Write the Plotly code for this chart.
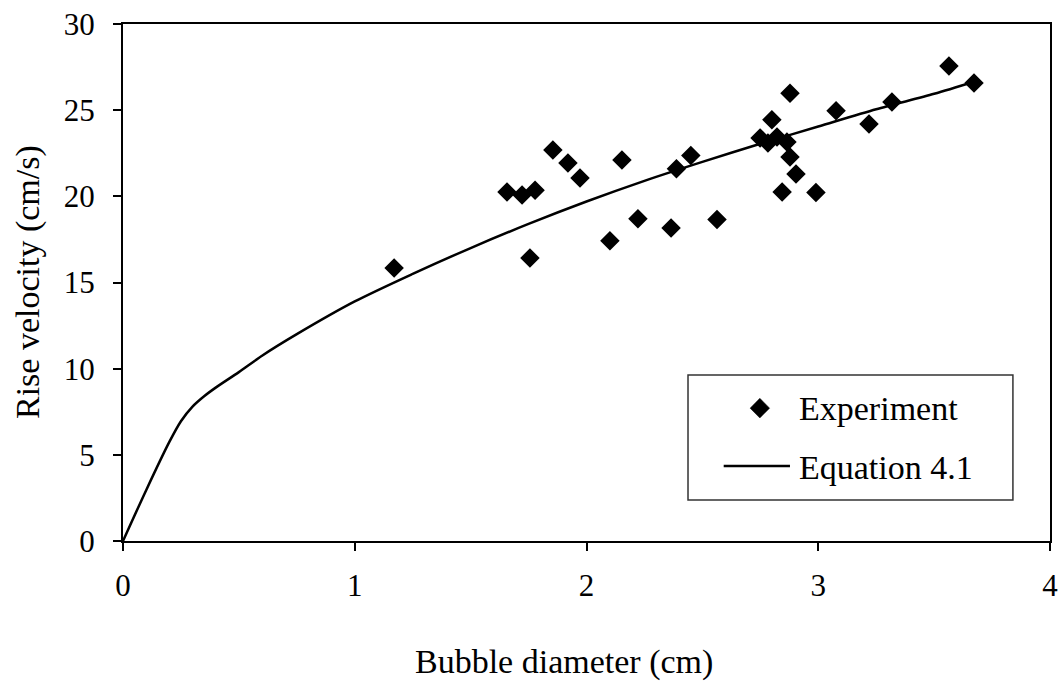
import plotly.graph_objects as go

# Measured bubble rise velocities
exp_diameter = [1.17, 1.657, 1.722, 1.778, 1.756, 1.855, 1.92, 1.972, 2.101, 2.153,
                2.222, 2.365, 2.388, 2.45, 2.563, 2.749, 2.783, 2.80, 2.822, 2.865,
                2.878, 2.878, 2.904, 2.844, 2.99, 3.077, 3.219, 3.318, 3.564, 3.672]
exp_velocity = [15.84, 20.25, 20.08, 20.35, 16.42, 22.69, 21.93, 21.06, 17.42, 22.11,
                18.70, 18.16, 21.60, 22.37, 18.66, 23.39, 23.10, 24.45, 23.44, 23.15,
                25.98, 22.28, 21.30, 20.25, 20.22, 24.97, 24.20, 25.47, 27.56, 26.58]

# Equation 4.1 curve
eq_diameter = [0.0, 0.1, 0.2, 0.25, 0.3, 0.35, 0.4, 0.5, 0.6, 0.75, 1.0, 1.25, 1.5, 1.75,
               2.0, 2.25, 2.5, 2.75, 3.0, 3.25, 3.5, 3.672]
eq_velocity = [0.0, 2.95, 5.75, 6.95, 7.8, 8.4, 8.9, 9.8, 10.75, 12.0, 13.9, 15.5, 17.0, 18.4,
               19.7, 20.9, 22.0, 23.05, 24.05, 25.05, 25.95, 26.65]

x_ticks = [0, 1, 2, 3, 4]
y_ticks = [0, 5, 10, 15, 20, 25, 30]

FONT = "Liberation Serif, Times New Roman, serif"
TEXT = dict(family=FONT, size=34, color="black")

fig = go.Figure()
fig.add_trace(go.Scatter(
    x=eq_diameter, y=eq_velocity, mode="lines", name="Equation 4.1",
    line=dict(color="black", width=2.5, shape="spline", smoothing=0.8),
    showlegend=False,
))
fig.add_trace(go.Scatter(
    x=exp_diameter, y=exp_velocity, mode="markers", name="Experiment",
    marker=dict(symbol="diamond", size=15, color="black"),
    showlegend=False,
))

# Boxed legend inside the plot area
lx0, lx1, ly0, ly1 = 0.6095, 0.960, 0.0793, 0.321
shapes = [
    dict(type="rect", xref="paper", yref="paper", x0=lx0, x1=lx1, y0=ly0, y1=ly1,
         line=dict(color="#333333", width=1.5), fillcolor="white", layer="above"),
]
dcx, dcy, hx, hy = 0.687, 0.257, 0.0105, 0.0190
shapes.append(dict(
    type="path", xref="paper", yref="paper", layer="above",
    path=f"M {dcx-hx} {dcy} L {dcx} {dcy+hy} L {dcx+hx} {dcy} L {dcx} {dcy-hy} Z",
    fillcolor="black", line=dict(color="black", width=0.5),
))
shapes.append(dict(type="line", xref="paper", yref="paper", layer="above",
                   x0=0.648, x1=0.7195, y0=0.145, y1=0.145,
                   line=dict(color="black", width=2.5)))

annotations = [
    dict(x=0.727, y=0.257, xref="paper", yref="paper", text="Experiment",
         showarrow=False, xanchor="left", yanchor="middle", font=TEXT),
    dict(x=0.727, y=0.143, xref="paper", yref="paper", text="Equation 4.1",
         showarrow=False, xanchor="left", yanchor="middle", font=TEXT),
    # axis titles
    dict(x=0.476, y=-0.234, xref="paper", yref="paper", text="Bubble diameter (cm)",
         showarrow=False, xanchor="center", yanchor="middle", font=TEXT),
    dict(x=-0.103, y=0.5, xref="paper", yref="paper", text="Rise velocity (cm/s)",
         showarrow=False, xanchor="center", yanchor="middle", textangle=-90, font=TEXT),
]

axis_common = dict(
    showline=True, linecolor="black", linewidth=2, mirror=True,
    showgrid=False, zeroline=False, ticks="outside", ticklen=8,
    tickwidth=1.5, tickcolor="black", automargin=False,
    tickfont=dict(family=FONT, size=31, color="black"),
)

fig.update_layout(
    width=1063, height=681,
    margin=dict(l=123, r=13, t=24, b=140),
    paper_bgcolor="white", plot_bgcolor="white",
    shapes=shapes, annotations=annotations,
    xaxis=dict(range=[0, 4], tickvals=x_ticks, ticklabelstandoff=8, **axis_common),
    yaxis=dict(range=[0, 30], tickvals=y_ticks, ticklabelstandoff=12, **axis_common),
)

fig.write_html("out.html")
